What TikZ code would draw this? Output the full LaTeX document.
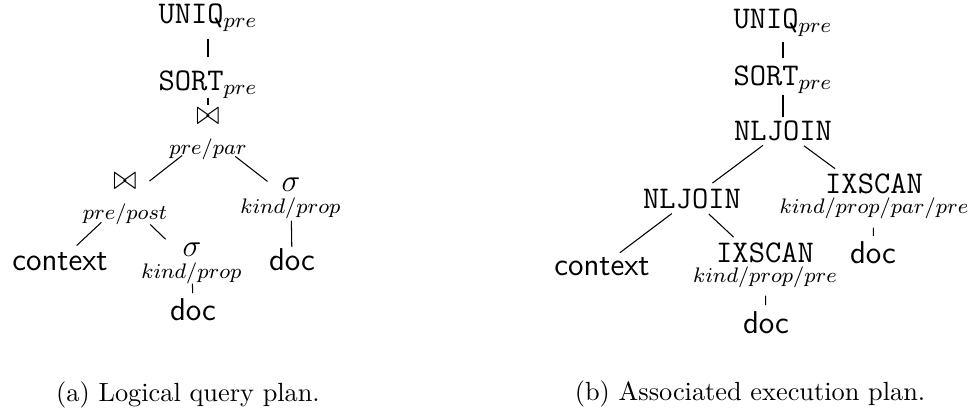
\documentclass[tikz,border=0pt]{standalone}
\usepackage{graphicx}
\usepackage{tikz}
\DeclareMathSizes{12}{12}{8.5}{6}
\tikzstyle{plan} = [anchor=base,inner sep=0pt,font=\large]
\tikzstyle{subcap} = [anchor=base,inner sep=0pt]
\tikzset{link/.style 2 args={shorten <=#1,shorten >=#2}}
\newcommand{\opsub}[2]{$\mathop{#1}\limits_{#2}$}
\newcommand{\joinop}{\mbox{\scalebox{0.9}[1.1]{$\bowtie$}}\rule[-4pt]{0pt}{4pt}}

\begin{document}
\begin{tikzpicture}[x=0.38pt,y=-0.38pt]
			\useasboundingbox (0,0) rectangle (973,412);
			\node[plan] (u1) at (208,23) {\texttt{UNIQ}$_{pre}$};
			\node[plan] (s1) at (208,90) {\texttt{SORT}$_{pre}$};
			\node[plan] (j1) at (208,124) {\opsub{\joinop}{pre/par}};
			\node[plan] (j2) at (125,189) {\opsub{\joinop}{pre/post}};
			\node[plan] (sr) at (291,193) {\opsub{\sigma}{kind/prop}};
			\node[plan] (sl) at (192,258) {\opsub{\sigma}{kind/prop}};
			\node[plan] (c1) at (60,270) {\textsf{context}};
			\node[plan] (dr) at (292,270) {\textsf{doc}};
			\node[plan] (dl) at (193,320) {\textsf{doc}};
			\draw[link={8pt}{10.6pt}] (u1.center)--(s1.center);
			\draw[link={5pt}{11.3pt}] (s1.center)--(j1.center);
			\draw[link={12.5pt}{11.8pt}] (j1.center)--(j2.center);
			\draw[link={13.1pt}{11.3pt}] (j1.center)--(sr.center);
			\draw[link={12.3pt}{8.7pt}] (j2.center)--(c1.center);
			\draw[link={13.3pt}{13.9pt}] (j2.center)--(sl.center);
			\draw[link={8pt}{4.6pt}] (sr.center)--(dr.center);
			\draw[link={7.2pt}{6.1pt}] (sl.center)--(dl.center);
			\node[subcap] (t1) at (188,401) {(a) Logical query plan.};
			
			\node[plan] (u2) at (783,28) {\texttt{UNIQ}$_{pre}$};
			\node[plan] (s2) at (783,85) {\texttt{SORT}$_{pre}$};
			\node[plan] (n1) at (783,140) {\texttt{NLJOIN}};
			\node[plan] (n2) at (692,208) {\texttt{NLJOIN}};
			\node[plan] (i1) at (874,193) {\opsub{\texttt{IXSCAN}}{kind/prop/par/pre}};
			\node[plan] (i2) at (765,262) {\opsub{\texttt{IXSCAN}}{kind/prop/pre}};
			\node[plan] (c2) at (602,275) {\textsf{context}};
			\node[plan] (d1) at (873,263) {\textsf{doc}};
			\node[plan] (d2) at (766,333) {\textsf{doc}};
			\draw[link={7.3pt}{8.3pt}] (u2.center)--(s2.center);
			\draw[link={5.7pt}{5.1pt}] (s2.center)--(n1.center);
			\draw[link={9.5pt}{9.7pt}] (n1.center)--(n2.center);
			\draw[link={9.9pt}{18.4pt}] (n1.center)--(i1.center);
			\draw[link={9.6pt}{8.5pt}] (n2.center)--(c2.center);
			\draw[link={8.7pt}{16.3pt}] (n2.center)--(i2.center);
			\draw[link={11.5pt}{6.1pt}] (i1.center)--(d1.center);
			\draw[link={11.1pt}{6.5pt}] (i2.center)--(d2.center);
			\node[subcap] (t2) at (750,400) {(b) Associated execution plan.};
		\end{tikzpicture}
\end{document}
